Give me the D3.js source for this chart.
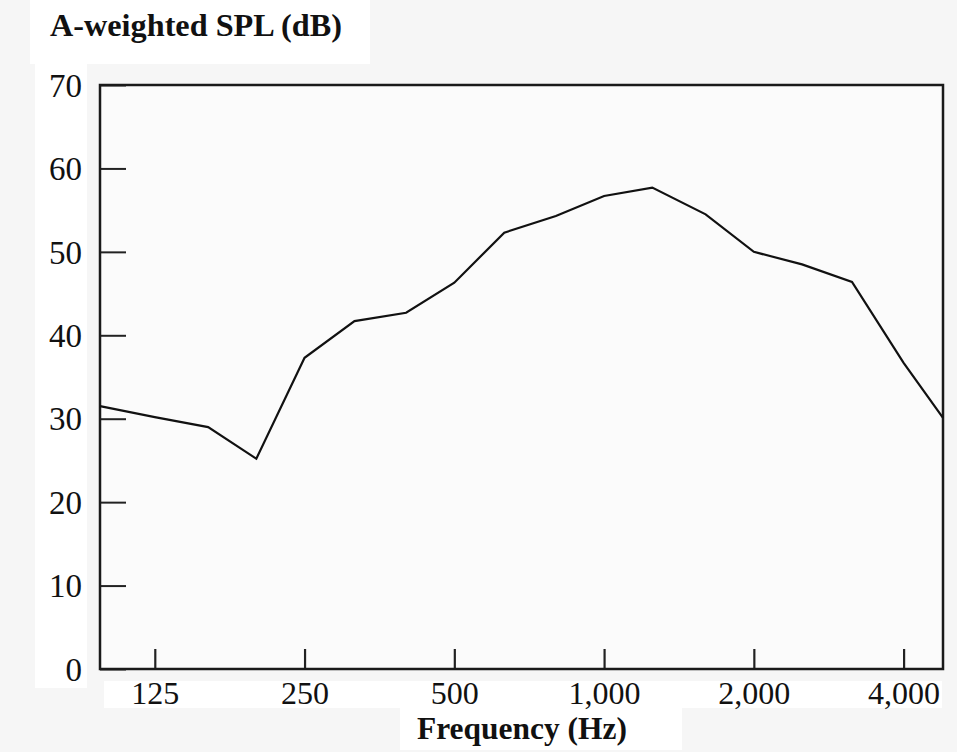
<!DOCTYPE html>
<html>
<head>
<meta charset="utf-8">
<script src="https://cdn.jsdelivr.net/npm/d3@7"></script>
<style>
  html, body { margin: 0; padding: 0; background: #f6f6f6; }
  svg { display: block; }
  text { font-family: "Liberation Serif", "Times New Roman", serif; fill: #111; }
</style>
</head>
<body>
<svg id="chart" width="957" height="752"></svg>
<script>
// frequencies (Hz) where the curve bends; first and last sit on the frame edges
var freqs = [97, 125, 160, 200, 250, 315, 400, 500, 630, 800, 1000, 1250, 1600, 2000, 2500, 3150, 4000, 4800];
var spl   = [31.5, 30.2, 29.0, 25.2, 37.3, 41.7, 42.7, 46.3, 52.3, 54.3, 56.7, 57.7, 54.5, 50.0, 48.5, 46.4, 36.7, 30.1];
var xTicks = [125, 250, 500, 1000, 2000, 4000];
var yTicks = [0, 10, 20, 30, 40, 50, 60, 70];

var svg = d3.select('#chart');
var mLeft = 100, mRight = 943, mTop = 85, mBottom = 669;

var x = d3.scaleLog().domain([97, 4800]).range([mLeft, mRight]);
var y = d3.scaleLinear().domain([0, 70]).range([mBottom, mTop]);

// white patches behind the labels
var patches = [
  [30, 0, 340, 64],
  [35, 64, 52, 624],
  [104, 681, 838, 27],
  [400, 708, 282, 42]
];
svg.selectAll('rect.patch')
  .data(patches).enter()
  .append('rect')
  .attr('class', 'patch')
  .attr('x', function(d){ return d[0]; })
  .attr('y', function(d){ return d[1]; })
  .attr('width', function(d){ return d[2]; })
  .attr('height', function(d){ return d[3]; })
  .attr('fill', '#ffffff');

svg.append('rect')
  .attr('x', mLeft).attr('y', mTop)
  .attr('width', mRight - mLeft).attr('height', mBottom - mTop)
  .attr('fill', '#fbfbfb');

var fmt = d3.format(',');

var yAxis = svg.append('g')
  .attr('transform', 'translate(' + mLeft + ',0)')
  .call(d3.axisLeft(y).tickValues(yTicks).tickSize(-26).tickPadding(18).tickFormat(d3.format('d')));
yAxis.select('.domain').remove();
yAxis.selectAll('line').attr('stroke', '#222').attr('stroke-width', 2);
yAxis.selectAll('text')
  .style('font-size', '33px')
  .attr('fill', '#111')
  .attr('dy', '0.34em');

var xAxis = svg.append('g')
  .attr('transform', 'translate(0,' + mBottom + ')')
  .call(d3.axisBottom(x).tickValues(xTicks).tickSize(-20).tickPadding(12).tickFormat(fmt));
xAxis.select('.domain').remove();
xAxis.selectAll('line').attr('stroke', '#222').attr('stroke-width', 2.2);
xAxis.selectAll('text')
  .style('font-size', '32px')
  .attr('fill', '#111');

// frame
svg.append('rect')
  .attr('x', mLeft).attr('y', mTop)
  .attr('width', mRight - mLeft).attr('height', mBottom - mTop)
  .attr('fill', 'none')
  .attr('stroke', '#1a1a1a')
  .attr('stroke-width', 2.5);

var line = d3.line()
  .x(function(d, i){ return x(freqs[i]); })
  .y(function(d){ return y(d); });

svg.append('path')
  .datum(spl)
  .attr('d', line)
  .attr('fill', 'none')
  .attr('stroke', '#111')
  .attr('stroke-width', 2.2);

svg.append('text')
  .attr('x', 50).attr('y', 36)
  .attr('textLength', 292)
  .attr('lengthAdjust', 'spacingAndGlyphs')
  .style('font-size', '31px')
  .style('font-weight', 'bold')
  .text('A-weighted SPL (dB)');

svg.append('text')
  .attr('x', 417).attr('y', 739)
  .attr('textLength', 210)
  .attr('lengthAdjust', 'spacingAndGlyphs')
  .style('font-size', '31px')
  .style('font-weight', 'bold')
  .text('Frequency (Hz)');
</script>
</body>
</html>
